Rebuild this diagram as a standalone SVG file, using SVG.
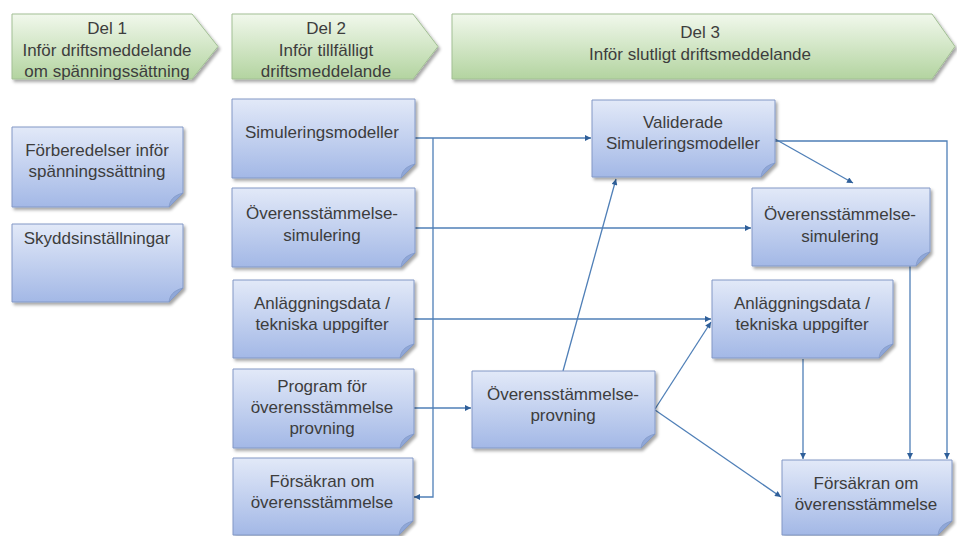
<svg xmlns="http://www.w3.org/2000/svg" width="957" height="536" viewBox="0 0 957 536">
<defs>
<linearGradient id="gGreen" x1="0" y1="0" x2="0" y2="1">
<stop offset="0" stop-color="#f1f8ec"/>
<stop offset="1" stop-color="#b3d4a0"/>
</linearGradient>
<linearGradient id="gBlue" x1="0" y1="0" x2="0" y2="1">
<stop offset="0" stop-color="#e2e9f8"/>
<stop offset="1" stop-color="#a3b8e6"/>
</linearGradient>
<filter id="shadow" x="-10%" y="-10%" width="125%" height="130%">
<feDropShadow dx="2" dy="2.5" stdDeviation="1.6" flood-color="#000" flood-opacity="0.35"/>
</filter>
<marker id="arr" viewBox="0 0 10 10" refX="10" refY="5" markerWidth="7" markerHeight="6" markerUnits="userSpaceOnUse" orient="auto">
<path d="M0,0 L10,5 L0,10 z" fill="#2f5f99"/>
</marker>
</defs>
<style>
.hdr{fill:url(#gGreen);stroke:#a2bf94;stroke-width:1;filter:url(#shadow)}
.note{fill:url(#gBlue);stroke:#8298c6;stroke-width:1;filter:url(#shadow)}
.fold{fill:#8fa7d8;stroke:#8298c6;stroke-width:0.8}
.t{font-family:"Liberation Sans",Arial,sans-serif;font-size:17px;fill:#3d3d3d;text-anchor:middle}
.c{fill:none;stroke:#4f7fb7;stroke-width:1.3}
.ca{fill:none;stroke:#4f7fb7;stroke-width:1.3;marker-end:url(#arr)}
</style>

<g id="del1">
<path class="hdr" d="M12,14 H192 L218,46.5 L192,79 H12 Z"/>
<text class="t" x="107" y="34">Del 1</text>
<text class="t" x="107" y="56">Inför driftsmeddelande</text>
<text class="t" x="107" y="77">om spänningssättning</text>
</g>
<g id="del2">
<path class="hdr" d="M232,14 H413 L438,46.5 L413,79 H232 Z"/>
<text class="t" x="326" y="34">Del 2</text>
<text class="t" x="326" y="56">Inför tillfälligt</text>
<text class="t" x="326" y="77">driftsmeddelande</text>
</g>
<g id="del3">
<path class="hdr" d="M452,14 H932 L955,46.5 L932,79 H452 Z"/>
<text class="t" x="700" y="38">Del 3</text>
<text class="t" x="700" y="60">Inför slutligt driftsmeddelande</text>
</g>

<g id="connectors">
<path class="ca" d="M415,138 H591"/>
<path class="ca" d="M433,138 V497 H414"/>
<path class="ca" d="M415,228 H751"/>
<path class="ca" d="M414,319 H711"/>
<path class="ca" d="M414,408 H471"/>
<path class="ca" d="M563,371 L616,179"/>
<path class="ca" d="M655,409 L711,322"/>
<path class="ca" d="M655,410 L781,497"/>
<path class="ca" d="M775,139 L853,183"/>
<path class="ca" d="M775,141 H947 V459"/>
<path class="ca" d="M910,266 V459"/>
<path class="ca" d="M803,359 V459"/>
</g>

<g id="n-forberedelser">
<path class="note" d="M12,127 H183 V193 L169,207 H12 Z"/>
<path class="fold" d="M169,207 C170,201 172,196 183,193 Z"/>
<text class="t" x="97" y="156">Förberedelser inför</text>
<text class="t" x="97" y="177">spänningssättning</text>
</g>
<g id="n-skydd">
<path class="note" d="M12,224 H183 V288 L169,302 H12 Z"/>
<path class="fold" d="M169,302 C170,296 172,291 183,288 Z"/>
<text class="t" x="97" y="244">Skyddsinställningar</text>
</g>
<g id="n-sim">
<path class="note" d="M232,99 H415 V164 L401,178 H232 Z"/>
<path class="fold" d="M401,178 C402,172 404,167 415,164 Z"/>
<text class="t" x="322" y="138">Simuleringsmodeller</text>
</g>
<g id="n-oversim">
<path class="note" d="M232,188 H415 V253 L401,267 H232 Z"/>
<path class="fold" d="M401,267 C402,261 404,256 415,253 Z"/>
<text class="t" x="322" y="219">Överensstämmelse-</text>
<text class="t" x="322" y="241">simulering</text>
</g>
<g id="n-anl">
<path class="note" d="M233,280 H414 V344 L400,358 H233 Z"/>
<path class="fold" d="M400,358 C401,352 403,347 414,344 Z"/>
<text class="t" x="322" y="309">Anläggningsdata /</text>
<text class="t" x="322" y="330">tekniska uppgifter</text>
</g>
<g id="n-program">
<path class="note" d="M233,369 H414 V434 L400,448 H233 Z"/>
<path class="fold" d="M400,448 C401,442 403,437 414,434 Z"/>
<text class="t" x="322" y="392">Program för</text>
<text class="t" x="322" y="413">överensstämmelse</text>
<text class="t" x="322" y="434">provning</text>
</g>
<g id="n-forsakran1">
<path class="note" d="M233,458 H413 V521 L399,535 H233 Z"/>
<path class="fold" d="M399,535 C400,529 402,524 413,521 Z"/>
<text class="t" x="322" y="487">Försäkran om</text>
<text class="t" x="322" y="508">överensstämmelse</text>
</g>
<g id="n-provning">
<path class="note" d="M472,371 H655 V434 L641,448 H472 Z"/>
<path class="fold" d="M641,448 C642,442 644,437 655,434 Z"/>
<text class="t" x="563" y="400">Överensstämmelse-</text>
<text class="t" x="563" y="421">provning</text>
</g>
<g id="n-validerade">
<path class="note" d="M592,100 H775 V163 L761,177 H592 Z"/>
<path class="fold" d="M761,177 C762,171 764,166 775,163 Z"/>
<text class="t" x="683" y="128">Validerade</text>
<text class="t" x="683" y="149">Simuleringsmodeller</text>
</g>
<g id="n-oversim2">
<path class="note" d="M752,188 H930 V252 L916,266 H752 Z"/>
<path class="fold" d="M916,266 C917,260 919,255 930,252 Z"/>
<text class="t" x="840" y="220">Överensstämmelse-</text>
<text class="t" x="840" y="242">simulering</text>
</g>
<g id="n-anl2">
<path class="note" d="M712,280 H893 V344 L879,358 H712 Z"/>
<path class="fold" d="M879,358 C880,352 882,347 893,344 Z"/>
<text class="t" x="802" y="309">Anläggningsdata /</text>
<text class="t" x="802" y="330">tekniska uppgifter</text>
</g>
<g id="n-forsakran2">
<path class="note" d="M782,460 H952 V521 L938,535 H782 Z"/>
<path class="fold" d="M938,535 C939,529 941,524 952,521 Z"/>
<text class="t" x="866" y="489">Försäkran om</text>
<text class="t" x="866" y="510">överensstämmelse</text>
</g>
</svg>
